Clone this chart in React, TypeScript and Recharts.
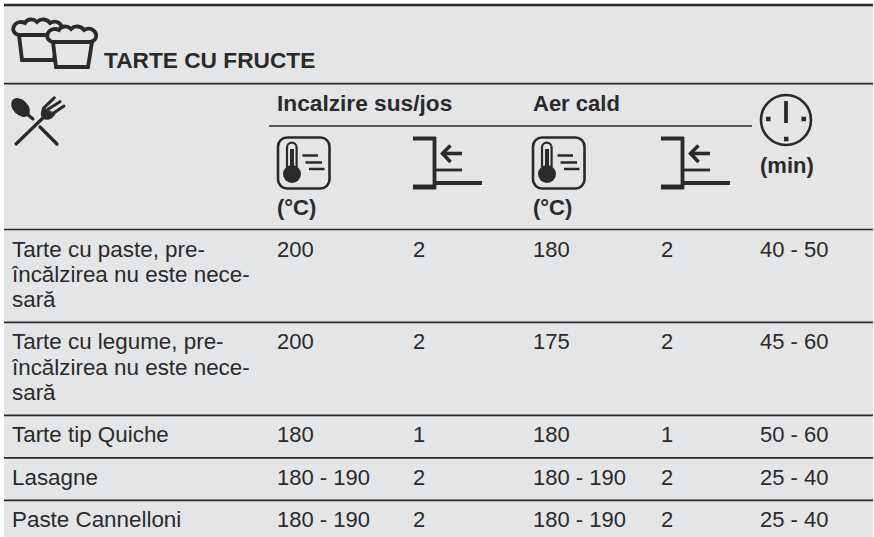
import { ScatterChart, Scatter, XAxis, YAxis, ReferenceArea, ReferenceLine } from 'recharts'

const title = 'TARTE CU FRUCTE'
const groupHeaders = ['Incalzire sus/jos', 'Aer cald']
const tempUnit = '(°C)'
const timeUnit = '(min)'

const dishes = [
  ['Tarte cu paste, pre-', 'încălzirea nu este nece-', 'sară'],
  ['Tarte cu legume, pre-', 'încălzirea nu este nece-', 'sară'],
  ['Tarte tip Quiche'],
  ['Lasagne'],
  ['Paste Cannelloni'],
]
const topBottomTemp = ['200', '200', '180', '180 - 190', '180 - 190']
const topBottomLevel = ['2', '2', '1', '2', '2']
const fanTemp = ['180', '175', '180', '180 - 190', '180 - 190']
const fanLevel = ['2', '2', '1', '2', '2']
const minutes = ['40 - 50', '45 - 60', '50 - 60', '25 - 40', '25 - 40']

// page layout, the axes run 1:1 with the picture
const W = 874
const H = 537
const INK = '#2b2a2a'
const BG = '#e4e5e7'
const FONT = '"Liberation Sans", Arial, sans-serif'
const LEFT = 4
const RIGHT = 873
const COL = { dish: 12, tbTemp: 277, tbLevel: 413, fanTemp: 533, fanLevel: 661, time: 760 }
const HEAD_BOTTOM = 229.5
const LINE_H = 25.2
const rowHeight = (lines: number) => 17.3 + LINE_H * lines

const rowTops: number[] = []
dishes.reduce((top, d) => {
  rowTops.push(top)
  return top + rowHeight(d.length)
}, HEAD_BOTTOM)
const rowRules = rowTops.slice(1)

const cell = (x: number, y: number, label: string) => ({ x, y, label })

const dishCells = rowTops.flatMap((top, i) =>
  dishes[i].map((line, n) => cell(COL.dish, top + 27 + n * LINE_H, line)),
)

const valueCells = rowTops.flatMap((top, i) => {
  const y = top + 27
  return [
    cell(COL.tbTemp, y, topBottomTemp[i]),
    cell(COL.tbLevel, y, topBottomLevel[i]),
    cell(COL.fanTemp, y, fanTemp[i]),
    cell(COL.fanLevel, y, fanLevel[i]),
    cell(COL.time, y, minutes[i]),
  ]
})

const wideHeadCells = [cell(104, 68, title), cell(COL.tbTemp, 111, groupHeaders[0])]

const headCells = [
  cell(COL.fanTemp, 111, groupHeaders[1]),
  cell(COL.tbTemp, 215, tempUnit),
  cell(COL.fanTemp, 215, tempUnit),
  cell(COL.time, 173, timeUnit),
]

const iconPoints = [
  { x: 12, y: 17, icon: 'cakes' },
  { x: 12, y: 97, icon: 'cutlery' },
  { x: 278, y: 137, icon: 'thermo' },
  { x: 533, y: 137, icon: 'thermo' },
  { x: 413, y: 137, icon: 'shelf' },
  { x: 661, y: 137, icon: 'shelf' },
  { x: 760, y: 94, icon: 'clock' },
]

const textShape = (fontSize: number, fontWeight: string) =>
  function CellText({ cx, cy, payload }: any) {
    return (
      <text x={cx} y={cy} fontFamily={FONT} fontSize={fontSize} fontWeight={fontWeight} fill={INK}>
        {payload.label}
      </text>
    )
  }

const CAKE_CAP = 'M6 18 C1 17 -1 13 1 9 C3 5 8 4 12 6 C14 2 20 1 24 5 C28 1 34 2 37 6 C42 3 47 5 49 10 C50 14 48 17 43 18 Z'
const CAKE_BODY = 'M6 18 L9 43 L41 43 L45 18'

function Cake({ dx, dy }: { dx: number; dy: number }) {
  return (
    <g transform={`translate(${dx} ${dy})`} fill={BG} stroke={INK} strokeWidth={3.8}>
      <path d={CAKE_BODY} />
      <path d={CAKE_CAP} />
    </g>
  )
}

function Icon({ cx, cy, payload }: any) {
  const t = `translate(${cx} ${cy})`
  if (payload.icon === 'cakes') {
    return (
      <g transform={t}>
        <Cake dx={1} dy={0} />
        <Cake dx={35} dy={7} />
      </g>
    )
  }
  if (payload.icon === 'cutlery') {
    return (
      <g transform={t} stroke={INK} fill="none" strokeLinecap="round">
        <ellipse cx={8.5} cy={10.5} rx={7.5} ry={11} transform="rotate(-45 8.5 10.5)" fill={INK} stroke="none" />
        <path d="M15 17 L21 22" strokeWidth={3} />
        <path d="M28 30 L45 47" strokeWidth={3.2} />
        <path d="M4 47 L33 19" strokeWidth={3.2} />
        <path d="M31.3 11.3 L42.3 0.8 M36 12.3 L48 4.7 M41.3 16.3 L52 9" strokeWidth={3} />
        <path d="M31 11 C28 16 29 21 33 22 C37 23 41 21 43 17 Z" fill={INK} strokeWidth={1} />
      </g>
    )
  }
  if (payload.icon === 'thermo') {
    return (
      <g transform={t} stroke={INK} fill="none">
        <rect x={0} y={0.5} width={51.5} height={51} rx={9} strokeWidth={2.6} />
        <path d="M9 30 V10.5 A4.8 4.8 0 0 1 18.6 10.5 V30" strokeWidth={2.2} />
        <circle cx={14} cy={37} r={9} fill={INK} stroke="none" />
        <path d="M14 12 V32" strokeWidth={4} />
        <path d="M24.5 18.5 H40 M27.5 25.5 H44 M31 32 H46.5" strokeWidth={2.4} />
      </g>
    )
  }
  if (payload.icon === 'shelf') {
    return (
      <g transform={t} stroke={INK} fill="none">
        <path d="M0 1.5 H23 M21.5 0 V52" strokeWidth={3.8} />
        <path d="M0 50 H23" strokeWidth={5} />
        <path d="M23 46 H69" strokeWidth={3.8} />
        <path d="M23 33 H49" strokeWidth={2.8} />
        <path d="M30 16.5 H49" strokeWidth={3.6} />
        <path d="M37.5 8.5 L29.5 16.5 L37.5 25" strokeWidth={3.6} />
      </g>
    )
  }
  return (
    <g transform={t} stroke={INK} fill="none">
      <circle cx={26} cy={26} r={25} strokeWidth={2.6} />
      <path d="M26 7 V29" strokeWidth={3.8} />
      <path d="M6 25 H10.5 M41.5 25 H46 M24 45 H28.5" strokeWidth={4.5} />
    </g>
  )
}

const fullRule = (y: number, width: number) => (
  <ReferenceLine
    key={y}
    segment={[{ x: LEFT, y }, { x: RIGHT, y }]}
    stroke={INK}
    strokeWidth={width}
  />
)

export default function App() {
  return (
    <div style={{ position: 'fixed', left: 0, top: 0, width: W, height: H, background: '#fff' }}>
      <ScatterChart width={W} height={H} margin={{ top: 0, right: 0, bottom: 0, left: 0 }}>
        <XAxis type="number" dataKey="x" domain={[0, W]} hide />
        <YAxis type="number" dataKey="y" domain={[0, H]} reversed hide />
        <ReferenceArea x1={LEFT} x2={RIGHT} y1={5} y2={H} fill={BG} fillOpacity={1} stroke="none" />
        {fullRule(5, 2.6)}
        {fullRule(83.7, 1.7)}
        <ReferenceLine segment={[{ x: 269, y: 126 }, { x: 752, y: 126 }]} stroke={INK} strokeWidth={1.4} />
        {fullRule(HEAD_BOTTOM, 1.7)}
        {rowRules.map(y => fullRule(y, 1.7))}
        <Scatter data={iconPoints} shape={Icon} isAnimationActive={false} />
        <Scatter data={wideHeadCells} shape={textShape(22.7, 'bold')} isAnimationActive={false} />
        <Scatter data={headCells} shape={textShape(22, 'bold')} isAnimationActive={false} />
        <Scatter data={dishCells} shape={textShape(22.4, 'normal')} isAnimationActive={false} />
        <Scatter data={valueCells} shape={textShape(22, 'normal')} isAnimationActive={false} />
      </ScatterChart>
    </div>
  )
}
